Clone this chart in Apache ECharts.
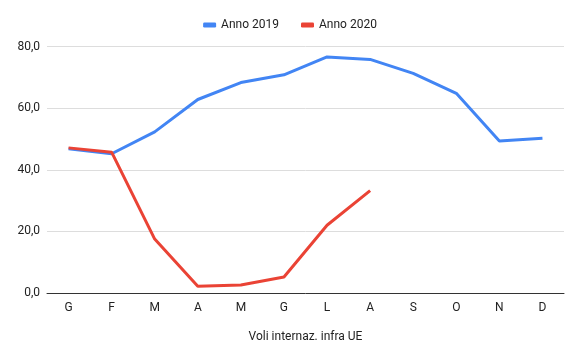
<!DOCTYPE html>
<html><head><meta charset="utf-8">
<script src="https://cdn.jsdelivr.net/npm/echarts@6/dist/echarts.min.js"></script>
<style>html,body{margin:0;padding:0;background:#fff}#c{width:580px;height:358px}</style>
</head><body><div id="c"></div>
<script>
const categories = ['G','F','M','A','M','G','L','A','S','O','N','D'];
const series2019 = [46.8, 45.2, 52.3, 62.8, 68.3, 70.8, 76.6, 75.8, 71.3, 64.8, 49.3, 50.2];
const series2020 = [47.1, 45.7, 17.5, 2.2, 2.6, 5.2, 22.0, 33.2, null, null, null, null];
const seriesNames = ['Anno 2019', 'Anno 2020'];
const xAxisTitle = 'Voli internaz. infra UE';

const chart = echarts.init(document.getElementById('c'));
chart.setOption({
  animation: false,
  textStyle: { fontFamily: 'Roboto, Arial, sans-serif' },
  legend: {
    top: 14, left: 'center', itemWidth: 13, itemHeight: 5, itemGap: 22,
    icon: 'roundRect',
    textStyle: { fontSize: 12, color: '#222' },
    data: seriesNames
  },
  grid: { left: 47, right: 16, top: 46.5, bottom: 65 },
  xAxis: {
    type: 'category', data: categories, boundaryGap: true,
    name: xAxisTitle, nameLocation: 'middle', nameGap: 38,
    nameTextStyle: { fontSize: 12, color: '#222' },
    axisLine: { lineStyle: { color: '#333', width: 1 } },
    axisTick: { show: false },
    axisLabel: { fontSize: 12, color: '#222', margin: 9 }
  },
  yAxis: {
    type: 'value', min: 0, max: 80, interval: 20,
    axisLine: { show: false }, axisTick: { show: false },
    axisLabel: { fontSize: 12, color: '#222', margin: 7,
      formatter: v => v.toFixed(1).replace('.', ',') },
    splitLine: { lineStyle: { color: '#ddd', width: 1 } }
  },
  series: [
    { name: seriesNames[0], type: 'line', data: series2019, showSymbol: false,
      lineStyle: { width: 3, color: '#4285F4' }, itemStyle: { color: '#4285F4' } },
    { name: seriesNames[1], type: 'line', data: series2020, showSymbol: false,
      lineStyle: { width: 3, color: '#EA4335' }, itemStyle: { color: '#EA4335' } }
  ]
});
</script></body></html>
